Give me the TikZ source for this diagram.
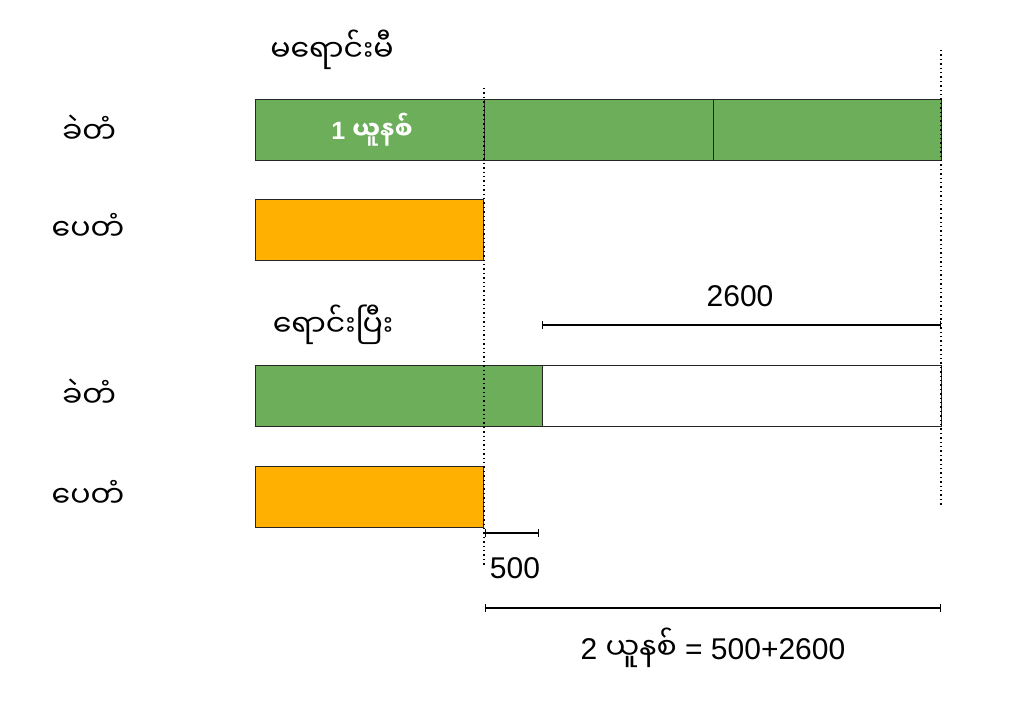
\documentclass[tikz,border=0pt]{standalone}
\usepackage{fontspec}
\setmainfont{Liberation Sans}
\newfontfamily\mmfont[Script=Myanmar]{Noto Sans Myanmar UI}
\usetikzlibrary{arrows.meta,positioning,calc}
\definecolor{cPencil}{HTML}{6DAE5B}
\definecolor{cRuler}{HTML}{FFB000}

\begin{document}
\begin{tikzpicture}[
  x=1pt,y=-1pt,
  bar/.style={draw=black!85,line width=1.3pt,anchor=north west,inner sep=0pt,
              minimum height=61pt},
  pencil/.style={bar,fill=cPencil,minimum width=229pt},
  ruler/.style={bar,fill=cRuler,minimum width=228pt},
  % font sizes read off the digit heights
  lbl/.style={font=\mmfont\fontsize{30}{36}\selectfont},
  num/.style={font=\fontsize{30}{36}\selectfont},
  guide/.style={line width=1.4pt,dash pattern=on 1.4pt off 3pt},
  dim/.style={{Bar[width=8pt]}-{Bar[width=8pt]},line width=1.3pt},
  ]
  \useasboundingbox (0,0) rectangle (1024,723);

  % before selling
  \node[lbl] (before) at (332,50) {မရောင်းမီ};
  \node[lbl] (pen1) at (89,129) {ခဲတံ};
  \node[lbl] (rul1) at (88,227) {ပေတံ};

  \node[pencil] (p1a) at (255,99) {};
  \node[pencil] (p1b) at (484,99) {};
  \node[pencil,minimum width=228pt] (p1c) at (713,99) {};
  \node[font=\bfseries\fontsize{25}{30}\selectfont,text=white]
    (unit) at ($(p1a.center)+(2,0)$) {1 {\mmfont ယူနစ်}};
  \node[ruler] (r1) at (255,199) {};

  % after selling
  \node[lbl] (after) at (333,325) {ရောင်းပြီး};
  \node[lbl] (pen2) at (89,393) {ခဲတံ};
  \node[lbl] (rul2) at (88,494) {ပေတံ};

  \node[bar,fill=cPencil,minimum width=287pt] (p2a) at (255,365) {};
  \node[bar,fill=white,minimum width=399pt] (p2b) at (542,365) {};
  \node[ruler] (r2) at (255,466) {};

  % guides
  \coordinate (g1top) at (484,88);
  \coordinate (g1bot) at (484,565);
  \coordinate (g2top) at (941,50);
  \coordinate (g2bot) at (941,505);
  \draw[guide] (g1top) -- (g1bot);
  \draw[guide] (g2top) -- (g2bot);

  % dimensions
  \coordinate (d1a) at (542,325);
  \coordinate (d1b) at (941,325);
  \draw[dim] (d1a) -- (d1b);
  \node[num] (len2600) at (740,296) {2600};

  \coordinate (d2a) at (485,533);
  \coordinate (d2b) at (539,533);
  \draw[dim] (d2a) -- (d2b);
  \node[num] (len500) at (515,568) {500};

  \coordinate (d3a) at (485,608);
  \coordinate (d3b) at (941,608);
  \draw[dim] (d3a) -- (d3b);
  \node[num] (total) at (713,648) {2 {\mmfont ယူနစ်} = 500+2600};
\end{tikzpicture}
\end{document}
